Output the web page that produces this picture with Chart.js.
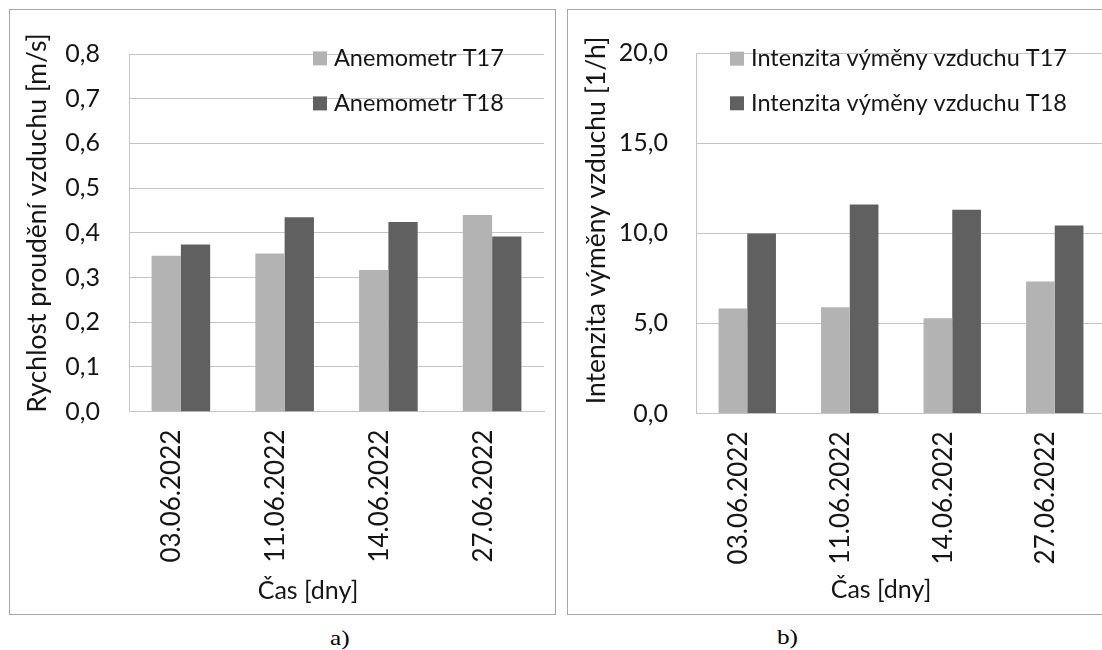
<!DOCTYPE html>
<html>
<head>
<meta charset="utf-8">
<script src="https://cdn.jsdelivr.net/npm/chart.js@4.4.0/dist/chart.umd.min.js"></script>
<style>
  html, body { margin: 0; padding: 0; background: #fff; overflow: hidden; width: 1102px; height: 650px; }
  .panel { position: absolute; border: 1px solid #a6a6a6; box-sizing: border-box; background: #fff; }
  #panelA { left: 9px; top: 9px; width: 547px; height: 606px; }
  #panelB { left: 567px; top: 9px; width: 550px; height: 606px; }
  .panel canvas { position: absolute; left: 0; top: 0; }
  .cap { position: absolute; font-family: "Liberation Serif", "Times New Roman", serif; font-size: 21px; line-height: 1; color: #000;
         transform: scaleX(1.2); transform-origin: left top; }
</style>
</head>
<body>
<div class="panel" id="panelA"><canvas id="chartA" width="545" height="604"></canvas></div>
<div class="panel" id="panelB"><canvas id="chartB" width="548" height="604"></canvas></div>
<div class="cap" style="left:330px; top:628px;">a)</div>
<div class="cap" style="left:777px; top:627px;">b)</div>
<script>
// Measurement days
const days = ['03.06.2022', '11.06.2022', '14.06.2022', '27.06.2022'];

// Air velocity [m/s]
const speedT17 = [0.349, 0.354, 0.317, 0.440];
const speedT18 = [0.374, 0.435, 0.424, 0.392];
const speedTickLabels = ['0,0', '0,1', '0,2', '0,3', '0,4', '0,5', '0,6', '0,7', '0,8'];

// Air exchange rate [1/h]
const exchangeT17 = [5.82, 5.90, 5.29, 7.33];
const exchangeT18 = [9.98, 11.60, 11.31, 10.43];
const exchangeTickLabels = ['0,0', '5,0', '10,0', '15,0', '20,0'];

const seriesNamesA = ['Anemometr T17', 'Anemometr T18'];
const seriesNamesB = ['Intenzita výměny vzduchu T17', 'Intenzita výměny vzduchu T18'];
const yTitleA = 'Rychlost proudění vzduchu [m/s]';
const yTitleB = 'Intenzita výměny vzduchu [1/h]';
const xTitle = 'Čas [dny]';

const LIGHT = '#b3b3b3';
const DARK = '#606060';
const GRID = '#c4c4c4';
const TEXT = '#151515';
const FONT = 'Lato, "Open Sans", sans-serif';

// Draws the in-plot legend and both axis titles
const panelText = {
  id: 'panelText',
  afterDraw(chart, args, o) {
    const ctx = chart.ctx;
    ctx.save();
    ctx.font = o.yTitleSize + 'px ' + FONT;
    ctx.fillStyle = TEXT;
    ctx.textAlign = 'center';
    ctx.textBaseline = 'middle';
    ctx.save();
    ctx.translate(o.yTitleX, o.yTitleY);
    ctx.rotate(-Math.PI / 2);
    ctx.fillText(o.yTitle, 0, 0);
    ctx.restore();
    ctx.font = o.xTitleSize + 'px ' + FONT;
    ctx.fillText(o.xTitle, o.xTitleX, o.xTitleY);

    ctx.font = o.legendSize + 'px ' + FONT;
    ctx.textAlign = 'left';
    chart.data.datasets.forEach((ds, i) => {
      const cy = o.legendY + i * o.legendGap;
      ctx.fillStyle = ds.backgroundColor;
      ctx.fillRect(o.legendX, cy - 7, 14, 14);
      ctx.fillStyle = TEXT;
      ctx.fillText(ds.label, o.legendX + 21, cy);
    });
    ctx.restore();
  }
};

function makeChart(id, names, v17, v18, tickLabels, yMax, yStep, box, catPct, text) {
  const canvas = document.getElementById(id);
  return new Chart(canvas, {
    type: 'bar',
    data: {
      labels: days,
      datasets: [
        { label: names[0], data: v17, backgroundColor: LIGHT, borderWidth: 0 },
        { label: names[1], data: v18, backgroundColor: DARK, borderWidth: 0 }
      ]
    },
    options: {
      responsive: false,
      animation: false,
      devicePixelRatio: 1,
      layout: { padding: { left: 0, top: box.top, right: canvas.width - box.right, bottom: 0 } },
      datasets: { bar: { categoryPercentage: catPct, barPercentage: 1.0 } },
      plugins: {
        legend: { display: false },
        tooltip: { enabled: false },
        panelText: text
      },
      scales: {
        x: {
          grid: { display: false, drawTicks: false },
          border: { display: true, color: GRID, width: 1 },
          ticks: {
            color: TEXT,
            font: { family: FONT, size: 26 },
            minRotation: 90, maxRotation: 90,
            padding: 18,
            labelOffset: -9
          },
          afterFit(scale) { scale.height = canvas.height - box.bottom; }
        },
        y: {
          min: 0, max: yMax,
          grid: { color: GRID, lineWidth: 1, drawTicks: false },
          border: { display: true, color: GRID, width: 1 },
          ticks: {
            stepSize: yStep,
            color: TEXT,
            font: { family: FONT, size: 25 },
            padding: box.tickPad,
            callback: (v, i) => tickLabels[i]
          },
          afterFit(scale) { scale.width = box.left; }
        }
      }
    },
    plugins: [panelText]
  });
}

makeChart('chartA', seriesNamesA, speedT17, speedT18, speedTickLabels, 0.8, 0.1,
  { left: 119, top: 17, right: 534, bottom: 401.7, tickPad: 29 }, 0.565,
  { yTitle: yTitleA, yTitleX: 27, yTitleY: 213, yTitleSize: 26.5, xTitle: xTitle, xTitleX: 298, xTitleY: 581,
    xTitleSize: 25, legendSize: 23.5, legendX: 303, legendY: 48.4, legendGap: 45 });

makeChart('chartB', seriesNamesB, exchangeT17, exchangeT18, exchangeTickLabels, 20, 5,
  { left: 128, top: 22, right: 538, bottom: 403.5, tickPad: 28 }, 0.56,
  { yTitle: yTitleB, yTitleX: 28, yTitleY: 210.5, yTitleSize: 26.5, xTitle: xTitle, xTitleX: 313, xTitleY: 580,
    xTitleSize: 25, legendSize: 23.5, legendX: 162, legendY: 48.7, legendGap: 44.6 });
</script>
</body>
</html>
